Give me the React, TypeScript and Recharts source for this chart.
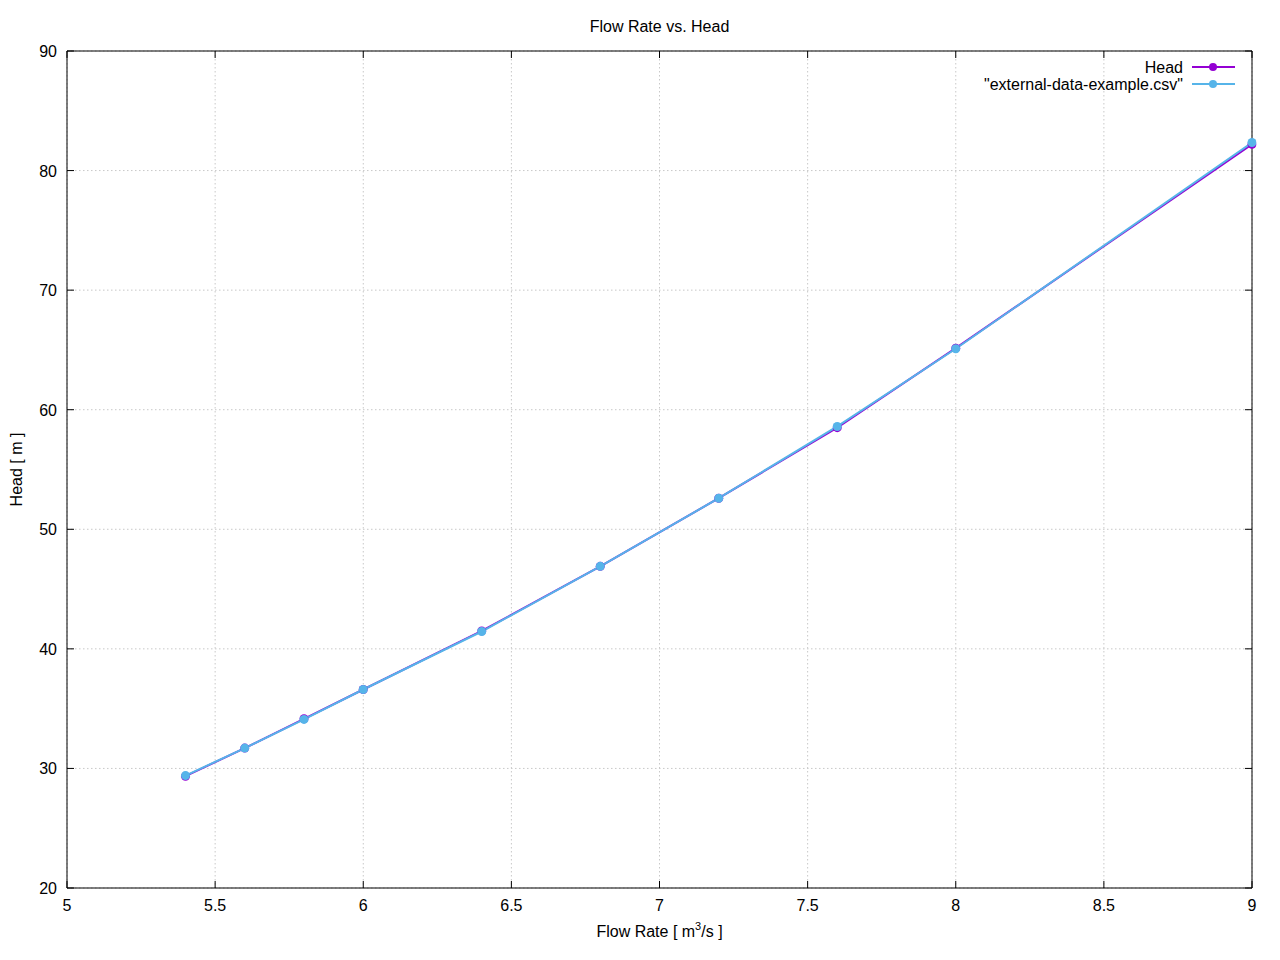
import React from 'react';
import { LineChart, Line, XAxis, YAxis, CartesianGrid, Legend, Label } from 'recharts';

const flowRates = [5.4, 5.6, 5.8, 6.0, 6.4, 6.8, 7.2, 7.6, 8.0, 9.0];
const headValues = [29.35, 31.7, 34.15, 36.6, 41.5, 46.9, 52.6, 58.5, 65.15, 82.2];
const csvValues = [29.4, 31.7, 34.1, 36.6, 41.45, 46.9, 52.6, 58.6, 65.1, 82.35];

const xTicks = [5, 5.5, 6, 6.5, 7, 7.5, 8, 8.5, 9];
const yTicks = [20, 30, 40, 50, 60, 70, 80, 90];

const HEAD_COLOR = '#9400d3';
const CSV_COLOR = '#56b4e9';
const FONT = '"Liberation Sans", Arial, sans-serif';
const FS = 16;

const data = flowRates.map((q, i) => ({ q, head: headValues[i], csv: csvValues[i] }));

const BottomTick = (props: any) => {
  const { x, y, payload } = props;
  return (
    <g>
      <line x1={x} y1={y} x2={x} y2={y - 7} stroke="#000" strokeWidth={1} />
      <text x={x} y={y + 23} textAnchor="middle" fontSize={FS} fontFamily={FONT} fill="#000">
        {String(payload.value)}
      </text>
    </g>
  );
};

const TopTick = (props: any) => {
  const { x, y } = props;
  return <line x1={x} y1={y} x2={x} y2={y + 7} stroke="#000" strokeWidth={1} />;
};

const LeftTick = (props: any) => {
  const { x, y, payload } = props;
  return (
    <g>
      <line x1={x} y1={y} x2={x + 7} y2={y} stroke="#000" strokeWidth={1} />
      <text x={x - 10} y={y + 6} textAnchor="end" fontSize={FS} fontFamily={FONT} fill="#000">
        {String(payload.value)}
      </text>
    </g>
  );
};

const RightTick = (props: any) => {
  const { x, y } = props;
  return <line x1={x} y1={y} x2={x - 7} y2={y} stroke="#000" strokeWidth={1} />;
};

const LegendContent = () => {
  const rows = [
    { name: 'Head', color: HEAD_COLOR },
    { name: '"external-data-example.csv"', color: CSV_COLOR },
  ];
  return (
    <svg width={320} height={40} style={{ display: 'block' }}>
      {rows.map((r, i) => {
        const cy = 12 + i * 17;
        return (
          <g key={r.name}>
            <text x={253} y={cy + 6} textAnchor="end" fontSize={FS} fontFamily={FONT} fill="#000">
              {r.name}
            </text>
            <line x1={262} y1={cy} x2={305} y2={cy} stroke={r.color} strokeWidth={2} />
            <circle cx={283} cy={cy} r={4} fill={r.color} />
          </g>
        );
      })}
    </svg>
  );
};

export default function App() {
  return (
    <div style={{ position: 'absolute', left: 0, top: 0, width: 1280, height: 960, background: '#fff' }}>
      <LineChart
        width={1280}
        height={960}
        data={data}
        margin={{ top: 41, right: 18, left: 7, bottom: 42 }}
      >
        <CartesianGrid stroke="#c8c8c8" strokeDasharray="1.5 2.5" strokeWidth={1} />
        <XAxis
          dataKey="q"
          type="number"
          domain={[5, 9]}
          ticks={xTicks}
          allowDataOverflow
          height={30}
          tickSize={0}
          tickMargin={0}
          tick={<BottomTick />}
          axisLine={{ stroke: '#000', strokeWidth: 1 }}
          tickLine={false}
          interval={0}
        >
          <Label
            content={(p: any) => {
              const vb = p.viewBox;
              const cx = vb.x + vb.width / 2;
              return (
                <text x={cx} y={vb.y + 49} textAnchor="middle" fontSize={FS} fontFamily={FONT} fill="#000">
                  Flow Rate [ m
                  <tspan fontSize={11} dy={-7}>3</tspan>
                  <tspan dy={7}>/s ]</tspan>
                </text>
              );
            }}
          />
        </XAxis>
        <XAxis
          xAxisId="top"
          dataKey="q"
          type="number"
          orientation="top"
          domain={[5, 9]}
          ticks={xTicks}
          allowDataOverflow
          height={10}
          tickSize={0}
          tickMargin={0}
          tick={<TopTick />}
          axisLine={{ stroke: '#000', strokeWidth: 1 }}
          tickLine={false}
          interval={0}
        />
        <YAxis
          type="number"
          domain={[20, 90]}
          ticks={yTicks}
          allowDataOverflow
          width={60}
          tickSize={0}
          tickMargin={0}
          tick={<LeftTick />}
          axisLine={{ stroke: '#000', strokeWidth: 1 }}
          tickLine={false}
          interval={0}
        >
          <Label
            content={(p: any) => {
              const vb = p.viewBox;
              const cy = vb.y + vb.height / 2;
              return (
                <g>
                  <text
                    x={22}
                    y={cy}
                    textAnchor="middle"
                    fontSize={FS}
                    fontFamily={FONT}
                    fill="#000"
                    transform={`rotate(-90, 22, ${cy})`}
                  >
                    Head [ m ]
                  </text>
                  <text x={659.5} y={32} textAnchor="middle" fontSize={FS} fontFamily={FONT} fill="#000">
                    Flow Rate vs. Head
                  </text>
                </g>
              );
            }}
          />
        </YAxis>
        <YAxis
          yAxisId="right"
          orientation="right"
          type="number"
          domain={[20, 90]}
          ticks={yTicks}
          allowDataOverflow
          width={10}
          tickSize={0}
          tickMargin={0}
          tick={<RightTick />}
          axisLine={{ stroke: '#000', strokeWidth: 1 }}
          tickLine={false}
          interval={0}
        />
        <Legend
          layout="vertical"
          align="center"
          verticalAlign="middle"
          content={<LegendContent />}
          wrapperStyle={{ position: 'absolute', left: 930, top: 55, width: 320, height: 40 }}
        />
        <Line
          xAxisId="top"
          yAxisId="right"
          dataKey="head"
          stroke="none"
          strokeWidth={0}
          dot={false}
          activeDot={false}
          legendType="none"
          isAnimationActive={false}
        />
        <Line
          dataKey="head"
          name="Head"
          stroke={HEAD_COLOR}
          strokeWidth={2}
          dot={{ r: 4.5, fill: HEAD_COLOR, stroke: HEAD_COLOR, strokeWidth: 0, clipDot: false }}
          activeDot={false}
          isAnimationActive={false}
        />
        <Line
          dataKey="csv"
          name='"external-data-example.csv"'
          stroke={CSV_COLOR}
          strokeWidth={2}
          dot={{ r: 4.5, fill: CSV_COLOR, stroke: CSV_COLOR, strokeWidth: 0, clipDot: false }}
          activeDot={false}
          isAnimationActive={false}
        />
      </LineChart>
    </div>
  );
}
